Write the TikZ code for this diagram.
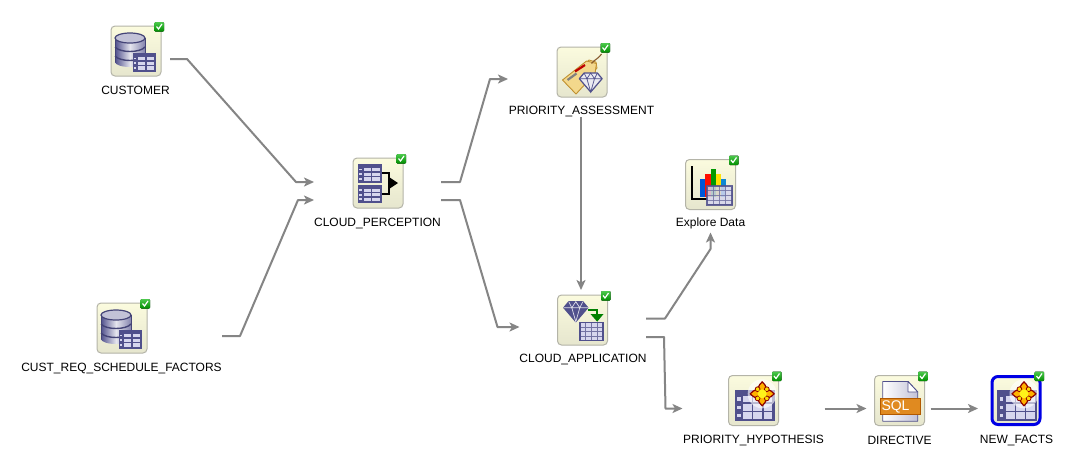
\documentclass[tikz,border=0pt]{standalone}
\usepackage{fontspec}
\setmainfont{Liberation Sans}
\usetikzlibrary{arrows.meta,calc}
\definecolor{tbl}{HTML}{50508C}
\definecolor{cell}{HTML}{D6D6EE}
\definecolor{conn}{HTML}{858585}
\definecolor{boxtop}{HTML}{FBFBDE}
\definecolor{boxbot}{HTML}{E6E6CE}
\definecolor{boxedge}{HTML}{B4B4A8}
\definecolor{taggold}{HTML}{F3D88C}
\definecolor{tagline}{HTML}{C09030}
\definecolor{sqlband}{HTML}{E08A20}
\tikzset{
  iconbox/.style={draw=boxedge,rounded corners=4pt,minimum width=50pt,minimum height=50pt,inner sep=0pt,line width=1pt,
    top color=boxtop,bottom color=boxbot},
  selbox/.style={draw=blue!90!black,rounded corners=6pt,minimum width=48pt,minimum height=48pt,inner sep=0pt,line width=3pt,
    top color=boxtop,bottom color=boxbot},
  lab/.style={font=\fontsize{12}{14}\selectfont,inner sep=0pt,text=black},
  link/.style={draw=conn,line width=2pt,line join=round,-{Stealth[length=10pt,width=9pt,inset=2.5pt]}},
}
\newcommand{\chk}{%
  \fill[rounded corners=1pt,top color=green!70!black!70!white,bottom color=green!55!black] (18.5,-29) rectangle (28,-19.5);
  \draw[white,line width=1.2pt] (20.5,-24.5) -- (22.5,-22) -- (26,-27);
}
% table with dark header row and dark first column: x0 y0 x1 y1 datacols rows
\newcommand{\tblicon}[6]{%
  \fill[tbl] (#1,#2) rectangle (#3,#4);
  \pgfmathsetmacro{\tw}{#3-#1}\pgfmathsetmacro{\th}{#4-#2}
  \pgfmathsetmacro{\fw}{.2*\tw}\pgfmathsetmacro{\hh}{.16*\th}
  \pgfmathsetmacro{\cw}{(\tw-\fw-1.4)/#5}\pgfmathsetmacro{\ch}{(\th-\hh-1.4)/#6}
  \foreach \i in {1,...,#5}\foreach \j in {1,...,#6}
    \fill[cell] ({#1+\fw+(\i-1)*\cw+.7},{#2+\hh+(\j-1)*\ch+.7}) rectangle ({#1+\fw+\i*\cw-.7},{#2+\hh+\j*\ch-.7});
  \foreach \j in {1,...,#6}
    \fill[cell] ({#1+.3*\fw},{#2+\hh+(\j-1)*\ch+.3*\ch}) rectangle ({#1+.75*\fw},{#2+\hh+\j*\ch-.3*\ch});
}
% plain grid: x0 y0 x1 y1 cols rows
\newcommand{\gridicon}[6]{%
  \fill[cell] (#1,#2) rectangle (#3,#4);
  \foreach \i in {1,...,#5} \draw[tbl!80,line width=1pt] ({#1+(#3-#1)*\i/#5},#2) -- ({#1+(#3-#1)*\i/#5},#4);
  \foreach \i in {1,...,#6} \draw[tbl!80,line width=1pt] (#1,{#2+(#4-#2)*\i/#6}) -- (#3,{#2+(#4-#2)*\i/#6});
  \draw[tbl,line width=1.5pt] (#1,#2) rectangle (#3,#4);
}
\newcommand{\dbicon}{%
  \shade[left color=tbl,right color=tbl!70,middle color=white!85!tbl] (-21,-13) rectangle (9,11);
  \shade[left color=tbl,right color=tbl!70,middle color=white!85!tbl] (-6,11) ellipse [x radius=15,y radius=5];
  \draw[tbl!85!black,line width=1pt] (-21,-13) -- (-21,11) (9,-13) -- (9,11);
  \draw[tbl!85!black,line width=1.4pt] (-21,-4) .. controls (-16,2) and (4,2) .. (9,-4);
  \draw[tbl!85!black,line width=1.4pt] (-21,5) .. controls (-16,11) and (4,11) .. (9,5);
  \filldraw[fill=tbl!35,draw=tbl!85!black,line width=1.2pt] (-6,-13) ellipse [x radius=15,y radius=5];
  \tblicon{-3}{2}{20}{21}{2}{3}
}
\newcommand{\gem}[5]{% x y scale fill line
  \begin{scope}[shift={(#1,#2)},scale=#3]
    \filldraw[fill=#4,draw=tbl,line width=1.2pt,line join=round] (-7,-10) -- (7,-10) -- (12,-4) -- (0,10) -- (-12,-4) -- cycle;
    \draw[#5,line width=.7pt] (-12,-4) -- (12,-4) (-7,-10) -- (-4,-4) -- (0,-10) -- (4,-4) -- (7,-10) (-4,-4) -- (0,10) -- (4,-4);
  \end{scope}
}
\newcommand{\flower}[2]{%
  \begin{scope}[shift={(#1,#2)}]
    \fill[white,opacity=.6] (0,0) circle (14.5);
    \foreach \a in {0,90,180,270}
      \filldraw[rotate=\a,fill=orange!60!yellow,draw=red!55!black,line width=1.2pt,line join=round]
        (0,0) .. controls (-7,-4) and (-4,-8) .. (0,-12) .. controls (4,-8) and (7,-4) .. (0,0);
    \foreach \a in {45,135,225,315}
      \filldraw[rotate=\a,fill=yellow!80!orange,draw=red!55!black,line width=.8pt] (0,-6.5) circle (2.4);
    \fill[yellow!90!white] (0,0) circle (4.5);
  \end{scope}
}
\begin{document}
\begin{tikzpicture}[x=1pt,y=-1pt]
\useasboundingbox (0,0) rectangle (1075,467);
\fill[white] (0,0) rectangle (1075,467);

% boxes
\node[iconbox] (customer) at (136,51) {};
\node[iconbox] (custreq) at (122,328) {};
\node[iconbox] (perception) at (378,183) {};
\node[iconbox] (assessment) at (582,72) {};
\node[iconbox] (explore) at (710.5,184.5) {};
\node[iconbox] (application) at (582.5,320) {};
\node[iconbox] (hypothesis) at (753.5,400.5) {};
\node[iconbox] (directive) at (899.5,400.5) {};
\node[selbox] (newfacts) at (1016,400.5) {};

% labels
\node[lab] (lcustomer) at (135.5,90) {CUSTOMER};
\node[lab] (lcustreq) at (121.5,368) {CUST\_REQ\_SCHEDULE\_FACTORS};
\node[lab] (lperception) at (377.5,223) {CLOUD\_PERCEPTION};
\node[lab] (lassessment) at (581.5,111) {PRIORITY\_ASSESSMENT};
\node[lab] (lexplore) at (710.5,223) {Explore Data};
\node[lab] (lapplication) at (583,359) {CLOUD\_APPLICATION};
\node[lab] (lhypothesis) at (753.5,440) {PRIORITY\_HYPOTHESIS};
\node[lab] (ldirective) at (899.5,440) {DIRECTIVE};
\node[lab] (lnewfacts) at (1016.5,440) {NEW\_FACTS};

% icons
\begin{scope}[shift={(customer.center)}] \dbicon \chk \end{scope}
\begin{scope}[shift={(custreq.center)}] \dbicon \chk \end{scope}
\begin{scope}[shift={(perception.center)}]
  \tblicon{-20}{-19}{4}{0}{2}{3}
  \tblicon{-20}{2}{4}{20}{2}{3}
  \draw[black,line width=1.8pt] (4,-10) -- (11,-10) -- (11,11) -- (4,11);
  \fill[black] (11,-6) -- (20,0) -- (11,6) -- cycle;
  \chk
\end{scope}
\begin{scope}[shift={(assessment.center)}]
  \filldraw[fill=taggold,draw=tagline,line width=.8pt,line join=round] (-15,11) -- (7,-12) -- (14,-10) -- (15,-4) -- (-6,20) -- cycle;
  \filldraw[fill=taggold,draw=tagline,line width=.9pt,line join=round] (-19.5,8) -- (4.5,-11) -- (14.5,-8.5) -- (13,1.5) -- (-6,22) -- cycle;
  \draw[red!75!black,line width=2.2pt] (-7,-.5) -- (3,-7);
  \draw[gray,line width=2.2pt] (-14.5,8) -- (-5.5,1.5);
  \draw[brown!70!black,line width=1.1pt] (9.5,-8.5) .. controls (13,-13) and (15,-12) .. (19.5,-18);
  \gem{8.7}{10.5}{.95}{white!88!tbl}{tbl}
  \chk
\end{scope}
\begin{scope}[shift={(explore.center)}]
  \draw[black,line width=1.8pt] (-18.3,-18.3) -- (-18.3,14.3) -- (-3,14.3);
  \fill[blue!60!cyan!85!black] (-11,-5.7) rectangle (-5.5,12.7);
  \fill[red!90!orange] (-5.5,-10.7) rectangle (0,12.7);
  \fill[green!60!black] (0,-15.7) rectangle (5,12.7);
  \fill[yellow!85!orange] (5,-10.7) rectangle (10,12.7);
  \fill[cyan!70!blue] (10,-5.7) rectangle (15,12.7);
  \begin{scope}[opacity=.85]\gridicon{-3.3}{1.7}{21.7}{20.3}{4}{4}\end{scope}
  \chk
\end{scope}
\begin{scope}[shift={(application.center)}]
  \gem{-6.7}{-8.3}{1}{tbl}{white!80!tbl}
  \draw[green!50!black,line width=2.4pt] (5.3,-10) -- (14.7,-10) -- (14.7,-5);
  \fill[green!50!black] (8,-6) -- (21,-6) -- (14.7,1.7) -- cycle;
  \gridicon{-2.7}{2.7}{20.7}{20.7}{4}{4}
  \chk
\end{scope}
\begin{scope}[shift={(hypothesis.center)}]
  \tblicon{-19}{-10.7}{21}{20.7}{3}{3}
  \flower{8.7}{-6.7}
  \chk
\end{scope}
\begin{scope}[shift={(directive.center)}]
  \shade[left color=white,right color=tbl!35,draw=tbl,line width=.8pt,line join=round] (-16.7,-19) -- (8.5,-19) -- (18.3,-8.5) -- (18.3,20.7) -- (-16.7,20.7) -- cycle;
  \filldraw[fill=white,draw=tbl,line width=.8pt,line join=round] (8.5,-19) -- (8.5,-8.5) -- (18.3,-8.5) -- cycle;
  \filldraw[fill=sqlband,draw=orange!70!black,line width=.6pt] (-19,-2.3) rectangle (21,14);
  \node[inner sep=0pt,text=white,font=\fontsize{14}{14}\selectfont] (sqltext) at (-4,6) {SQL};
  \chk
\end{scope}
\begin{scope}[shift={(newfacts.center)}]
  \tblicon{-18.7}{-10.7}{20.7}{20.7}{3}{3}
  \flower{8}{-6.7}
  \chk
\end{scope}

% connector bends
\coordinate (b1) at ([shift={(51,8)}]customer.center);
\coordinate (b2) at ([shift={(-82,-1)}]perception.center);
\coordinate (b3) at ([shift={(118,8)}]custreq.center);
\coordinate (b4) at ([shift={(-80,17)}]perception.center);
\coordinate (b5) at ([shift={(82,-1)}]perception.center);
\coordinate (b6) at ([shift={(-92,7)}]assessment.center);
\coordinate (b7) at ([shift={(82,17)}]perception.center);
\coordinate (b8) at ([shift={(-85,7)}]application.center);
\coordinate (b9) at ([shift={(82.5,-1.5)}]application.center);
\coordinate (b10) at ([shift={(0,64.5)}]explore.center);
\coordinate (b11) at ([shift={(81.5,17)}]application.center);
\coordinate (b12) at ([shift={(-88,8)}]hypothesis.center);

% connectors
\draw[link] ([shift={(34,8)}]customer.center) -- (b1) -- (b2) -- ([shift={(-64,-1)}]perception.center);
\draw[link] ([shift={(100,8)}]custreq.center) -- (b3) -- (b4) -- ([shift={(-64,17)}]perception.center);
\draw[link] ([shift={(63,-1)}]perception.center) -- (b5) -- (b6) -- ([shift={(-74,7)}]assessment.center);
\draw[link] ([shift={(63,17)}]perception.center) -- (b7) -- (b8) -- ([shift={(-63,7)}]application.center);
\draw[link] ([shift={(-1,45)}]assessment.center) -- ([shift={(-1.5,-30)}]application.center);
\draw[link] ([shift={(63.5,-1.5)}]application.center) -- (b9) -- (b10) -- ([shift={(0,48)}]explore.center);
\draw[link] ([shift={(63.5,17)}]application.center) -- (b11) -- (b12) -- ([shift={(-71,8)}]hypothesis.center);
\draw[link] ([shift={(71,8)}]hypothesis.center) -- ([shift={(-33,8)}]directive.center);
\draw[link] ([shift={(31,8)}]directive.center) -- ([shift={(-38,8)}]newfacts.center);
\end{tikzpicture}
\end{document}
